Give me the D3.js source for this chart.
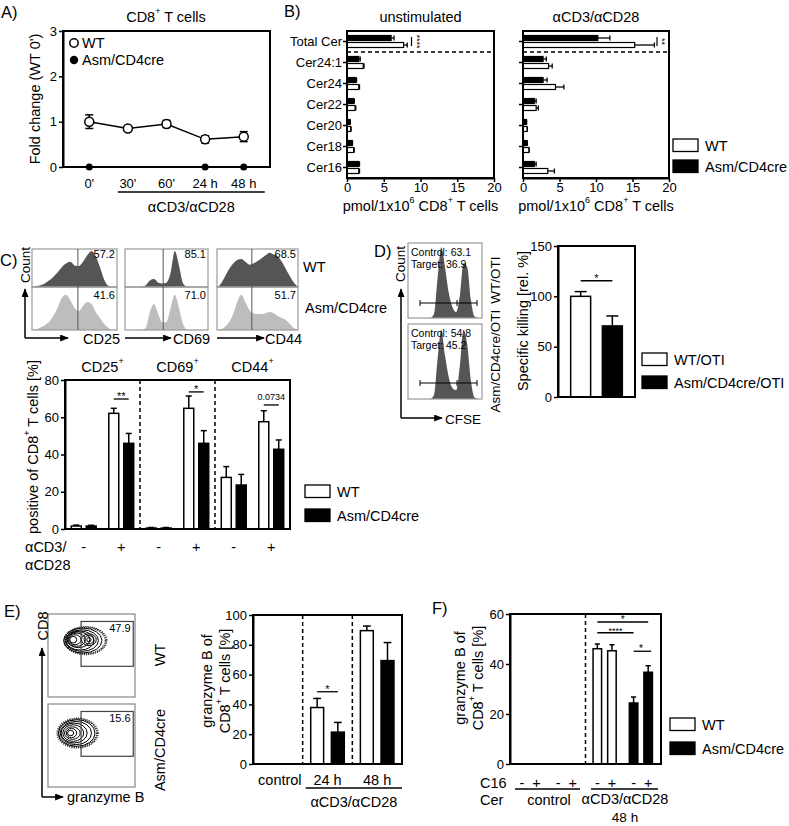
<!DOCTYPE html>
<html><head><meta charset="utf-8">
<script src="https://cdn.jsdelivr.net/npm/d3@7"></script>
<style>
body{margin:0;background:#fff;}
svg{display:block;font-family:"Liberation Sans",Arial,Helvetica,sans-serif;}
</style></head><body>
<svg id="fig" width="789" height="826"></svg>
<script>
// ---------------- DATA ----------------
// Panel A
const timeLabels = ["0'", "30'", "60'", "24 h", "48 h"];
const wtFold = [1.0, 0.85, 0.95, 0.61, 0.67];
const wtFoldErr = [0.15, 0.03, 0.08, 0.08, 0.11];
const asmFoldTimes = ["0'", "24 h", "48 h"];
const asmFold = [0, 0, 0];
const aTicks = [0, 1, 2, 3];
// Panel B
const cerCategories = ["Total Cer", "Cer24:1", "Cer24", "Cer22", "Cer20", "Cer18", "Cer16"];
const unstimWT = [7.7, 2.2, 1.6, 1.1, 0.5, 0.9, 1.6];
const unstimWTErr = [0.5, 0.12, 0.1, 0.1, 0.05, 0.08, 0.1];
const unstimAsm = [6.0, 1.6, 1.2, 0.9, 0.4, 0.7, 1.6];
const unstimAsmErr = [0.4, 0.2, 0.1, 0.1, 0.05, 0.05, 0.1];
const stimWT = [15.3, 3.5, 4.45, 1.8, 0.55, 0.8, 3.4];
const stimWTErr = [2.7, 0.5, 1.15, 0.3, 0.05, 0.05, 0.9];
const stimAsm = [10.25, 2.75, 2.75, 1.55, 0.45, 0.55, 1.55];
const stimAsmErr = [1.65, 0.45, 0.55, 0.25, 0.05, 0.05, 0.25];
const bTicks = [0, 5, 10, 15, 20];
// Panel C histograms (relative density at 21 evenly spaced points)
const histMarkers = ["CD25", "CD69", "CD44"];
const histWT = [
  [0,.02,.05,.1,.18,.28,.4,.55,.65,.7,.6,.58,.7,.88,1,.85,.55,.2,.03,0,0],
  [0,0,0,0,.01,.05,.18,.22,.12,.1,.12,.4,1,.6,.1,.01,0,0,0,0,0],
  [0,.1,.3,.5,.65,.75,.78,.7,.62,.65,.72,.8,.88,.95,.9,.85,.7,.5,.3,.12,0]
];
const histAsm = [
  [0,.02,.06,.12,.2,.35,.55,.8,.88,.75,.55,.47,.6,.7,.65,.45,.3,.15,.05,0,0],
  [0,0,0,0,0,.05,.45,.65,.4,.18,.2,.55,.88,.55,.15,0,0,0,0,0,0],
  [0,.02,.08,.2,.4,.7,.88,.7,.5,.42,.4,.4,.42,.45,.42,.35,.3,.25,.15,.05,0]
];
const histGate = [0.54, 0.46, 0.43];
const histWTPct = ["57.2", "85.1", "68.5"];
const histAsmPct = ["41.6", "71.0", "51.7"];
// Panel C bars
const cMarkers = ["CD25", "CD69", "CD44"];
const cWTunstim = [1.6, 0.5, 27.7];
const cWTunstimErr = [0.5, 0.3, 5.8];
const cAsmUnstim = [1.6, 0.5, 23.6];
const cAsmUnstimErr = [0.4, 0.3, 5.7];
const cWTstim = [62.1, 64.8, 57.6];
const cWTstimErr = [2.7, 6.6, 5.9];
const cAsmStim = [46, 46, 42.8];
const cAsmStimErr = [5.3, 6.8, 5.0];
const cSigLabels = ["**", "*", "0.0734"];
const cSigLevel = [69.8, 73.6, 66.6];
const cTicks = [0, 20, 40, 60, 80];
// Panel D
const dHistWT = [0,0,0,0,0,0,0,.05,.55,.97,.7,.35,.15,.08,.3,.75,.7,.25,.02,0,0];
const dHistAsm = [0,0,0,0,0,0,0,.05,.55,.95,.6,.3,.15,.12,.45,.95,.75,.25,.02,0,0];
const dWTText = ["Control: 63.1", "Target: 36.9"];
const dAsmText = ["Control: 54.8", "Target: 45.2"];
const dGroups = ["WT/OTI", "Asm/CD4cre/OTI"];
const dVals = [100, 70.6];
const dErr = [4.7, 9.9];
const dTicks = [0, 50, 100, 150];
// Panel E flow contours [cx, cy, rx, ry] in plot units (0-100)
const eWTContours = [[40,68,22,15],[39,68,19,13],[37,68,16,11.5],[35,69,13,9.5],[33,69,10,8],[31,69,7,6],[29,69,4,4],
  [47,69,8.5,7],[47,69,5.5,5],[47,69,2.5,2.5]];
const eAsmContours = [[33,65,21,16],[32,65,18,14],[30,65,15,12],[29,65,12,10],[28,65,9,7.5],[27,65,6,5.5],[26,65,3.5,3.2]];
const eGate = [38, 98, 37, 91];
const eFlowPct = ["47.9", "15.6"];
const eGroups = ["control", "24 h", "48 h"];
const eWT = [0, 37.9, 89.5];
const eWTErr = [0, 6.1, 3.1];
const eAsm = [0, 21.4, 69.4];
const eAsmErr = [0, 6.5, 12.1];
const eTicks = [0, 20, 40, 60, 80, 100];
// Panel F
const fGroups = ["control", "stim"];
const fC16 = ["-", "+"];
const fWT = [0, 0, 46.1, 45.3];
const fWTErr = [0, 0, 1.9, 2.4];
const fAsm = [0, 0, 24.4, 36.7];
const fAsmErr = [0, 0, 2.4, 2.6];
const fTicks = [0, 20, 40, 60];

// ---------------- HELPERS ----------------
const FONT = "Liberation Sans, Arial, Helvetica, sans-serif";
const svg = d3.select("#fig");
const defs = svg.append("defs");
defs.append("marker").attr("id","arr").attr("viewBox","0 0 10 8").attr("refX",9).attr("refY",4)
  .attr("markerWidth",9).attr("markerHeight",7).attr("markerUnits","userSpaceOnUse").attr("orient","auto")
  .append("path").attr("d","M0,0L10,4L0,8Z").attr("fill","#000");

function T(g, x, y, s, size, anchor="start", rot=0, base="central") {
  const t = g.append("text").attr("x",x).attr("y",y).attr("font-size",size)
    .attr("text-anchor",anchor).attr("dominant-baseline",base).attr("fill","#000");
  const parts = String(s).split("^");
  let shifted = 0;
  parts.forEach((p,i)=>{
    if (!p.length) return;
    const ts = t.append("tspan").text(p);
    if (i%2===1) { ts.attr("font-size", size*0.62).attr("dy", -size*0.4); shifted = size*0.4; }
    else if (shifted) { ts.attr("dy", shifted); shifted = 0; }
  });
  if (rot) t.attr("transform",`rotate(${rot},${x},${y})`);
  return t;
}
function L(g,x1,y1,x2,y2,w=1.5,col="#000",dash=null){
  const l=g.append("line").attr("x1",x1).attr("y1",y1).attr("x2",x2).attr("y2",y2).attr("stroke",col).attr("stroke-width",w);
  if(dash) l.attr("stroke-dasharray",dash);
  return l;
}
function frame(g,x0,y0,x1,y1,sw=2,col="#000"){
  g.append("rect").attr("x",x0).attr("y",y0).attr("width",x1-x0).attr("height",y1-y0)
   .attr("fill","none").attr("stroke",col).attr("stroke-width",sw);
}
function yAxis(g, scale, x, ticks, size=13){
  const ax = g.append("g").attr("transform",`translate(${x},0)`)
    .call(d3.axisLeft(scale).tickValues(ticks).tickFormat(d3.format("d")).tickSize(4).tickSizeOuter(0).tickPadding(2));
  ax.attr("font-family",FONT);
  ax.select(".domain").attr("stroke-width",2);
  ax.selectAll(".tick line").attr("stroke-width",1.5);
  ax.selectAll(".tick text").attr("font-size",size).attr("fill","#000");
  return ax;
}
function vBar(g, x, w, y, v, e, fill){
  if (e>0) { L(g, x+w/2, y(v), x+w/2, y(v+e), 1.5); L(g, x+w/2-w*0.3, y(v+e), x+w/2+w*0.3, y(v+e), 1.5); }
  if (v>0) g.append("rect").attr("x",x).attr("y",y(v)).attr("width",w).attr("height",y(0)-y(v))
    .attr("fill",fill).attr("stroke","#000").attr("stroke-width",1.5);
}
function legendBoxes(g, x, y1, y2, labels){
  [[y1,"#fff",labels[0]],[y2,"#000",labels[1]]].forEach(([yy,f,lab])=>{
    g.append("rect").attr("x",x).attr("y",yy).attr("width",25).attr("height",12.5)
      .attr("fill",f).attr("stroke","#000").attr("stroke-width",1.3);
    T(g, x+32, yy+6.5, lab, 14.5);
  });
}
function star(g, x, y, s, size=11){ T(g, x, y+1, s, size, "middle", 0, "auto"); }

// ---------------- PANEL A ----------------
{
  const g = svg.append("g");
  const x = d3.scalePoint().domain(timeLabels).range([63,270]).padding(0.68);
  const y = d3.scaleLinear().domain([0,3]).range([167,31]);
  frame(g,63,31,270,167);
  yAxis(g,y,63,aTicks);
  timeLabels.forEach(t=>T(g,x(t),183,t,13,"middle"));
  g.append("path").datum(timeLabels.map((t,i)=>[x(t),y(wtFold[i])]))
    .attr("d",d3.line()).attr("fill","none").attr("stroke","#000").attr("stroke-width",1.5);
  wtFold.forEach((v,i)=>{
    const xx=x(timeLabels[i]), y1=y(v+wtFoldErr[i]), y2=y(v-wtFoldErr[i]);
    L(g,xx,y1,xx,y2,1.5); L(g,xx-4,y1,xx+4,y1,1.5); L(g,xx-4,y2,xx+4,y2,1.5);
  });
  wtFold.forEach((v,i)=>g.append("circle").attr("cx",x(timeLabels[i])).attr("cy",y(v)).attr("r",4.5)
    .attr("fill","#fff").attr("stroke","#000").attr("stroke-width",1.5));
  asmFoldTimes.forEach((t,i)=>g.append("circle").attr("cx",x(t)).attr("cy",y(asmFold[i])).attr("r",3.5).attr("fill","#000"));
  g.append("circle").attr("cx",74).attr("cy",43).attr("r",4.2).attr("fill","#fff").attr("stroke","#000").attr("stroke-width",1.5);
  T(g,82,43,"WT",14.5);
  g.append("circle").attr("cx",74).attr("cy",60).attr("r",4.2).attr("fill","#000");
  T(g,82,60,"Asm/CD4cre",14.5);
  L(g,x("30'")-10,192,x("48 h")+21,192,1.3);
  T(g,(x("30'")-10+x("48 h")+21)/2,207,"αCD3/αCD28",14.5,"middle");
  T(g,166,17,"CD8^+^ T cells",14.5,"middle");
  T(g,35,99,"Fold change (WT 0')",14.5,"middle",-90);
  T(g,1,12,"A)",16.5);
}

// ---------------- PANEL B ----------------
function cerPanel(x0,x1,wt,wtE,asm,asmE,title,labels,sigX,sigText){
  const g = svg.append("g");
  const x = d3.scaleLinear().domain([0,20]).range([x0,x1]);
  const y = d3.scaleBand().domain(cerCategories).range([31,178]);
  const inner = d3.scaleBand().domain(["Asm","WT"]).range([0,y.bandwidth()]).paddingInner(0.286).paddingOuter(0.643);
  const h = inner.bandwidth();
  cerCategories.forEach((c,i)=>{
    [["Asm",asm[i],asmE[i],"#000"],["WT",wt[i],wtE[i],"#fff"]].forEach(([k,v,e,fill])=>{
      const yy = y(c)+inner(k);
      L(g,x(v),yy+h/2,x(v+e),yy+h/2,1.3);
      L(g,x(v+e),yy,x(v+e),yy+h,1.3);
      g.append("rect").attr("x",x(0)).attr("y",yy).attr("width",x(v)-x(0)).attr("height",h)
        .attr("fill",fill).attr("stroke","#000").attr("stroke-width",1.2);
    });
  });
  L(g,x0,y("Cer24:1"),x1,y("Cer24:1"),1.5,"#000","4,3");
  frame(g,x0,31,x1,178);
  const ax = g.append("g").attr("transform","translate(0,178)")
    .call(d3.axisBottom(x).tickValues(bTicks).tickSize(4).tickSizeOuter(0).tickPadding(1));
  ax.attr("font-family",FONT); ax.select(".domain").attr("stroke-width",2);
  ax.selectAll(".tick line").attr("stroke-width",1.5);
  ax.selectAll(".tick text").attr("font-size",13).attr("fill","#000");
  const ay = g.append("g").attr("transform",`translate(${x0},0)`)
    .call(d3.axisLeft(y).tickSize(4).tickSizeOuter(0).tickPadding(1));
  ay.attr("font-family",FONT); ay.select(".domain").remove();
  ay.selectAll(".tick line").attr("stroke-width",1.5);
  ay.selectAll(".tick text").attr("font-size",13).attr("fill","#000");
  if(!labels) ay.selectAll(".tick text").remove();
  const ys1 = y("Total Cer")+inner("Asm")+h/2, ys2 = y("Total Cer")+inner("WT")+h/2;
  L(g,sigX,ys1-1,sigX,ys2+1,1.2);
  T(g,sigX+5,(ys1+ys2)/2,sigText,9,"middle",90);
  T(g,(x0+x1)/2,17,title,14.5,"middle");
  T(g,(x0+x1)/2,206,"pmol/1x10^6^ CD8^+^ T cells",14.5,"middle");
}
cerPanel(347,494,unstimWT,unstimWTErr,unstimAsm,unstimAsmErr,"unstimulated",true,411.5,"****");
cerPanel(523,669,stimWT,stimWTErr,stimAsm,stimAsmErr,"αCD3/αCD28",false,657,"**");
T(svg,284,11,"B)",16.5);
legendBoxes(svg,673,139,160,["WT","Asm/CD4cre"]);

// ---------------- PANEL C histograms ----------------
{
  const g = svg.append("g");
  const boxes = [[32,117],[125,208],[217,298]];
  const t = d3.range(21).map(i=>i/20);
  histMarkers.forEach((m,mi)=>{
    const [b0,b1] = boxes[mi];
    const x = d3.scaleLinear().domain([0,1]).range([b0,b1]);
    const yW = d3.scaleLinear().domain([0,1]).range([287,251]);
    const yA = d3.scaleLinear().domain([0,1]).range([330,290]);
    g.append("path").datum(t.map((tt,i)=>[tt,histWT[mi][i]]))
      .attr("d",d3.area().x(d=>x(d[0])).y0(yW(0)).y1(d=>yW(d[1])).curve(d3.curveMonotoneX)).attr("fill","#555");
    g.append("path").datum(t.map((tt,i)=>[tt,histAsm[mi][i]]))
      .attr("d",d3.area().x(d=>x(d[0])).y0(yA(0)).y1(d=>yA(d[1])).curve(d3.curveMonotoneX)).attr("fill","#bdbdbd");
    frame(g,b0,249,b1,287,1.2,"#999");
    frame(g,b0,287,b1,330,1.2,"#999");
    L(g,x(histGate[mi]),249,x(histGate[mi]),330,1,"#555");
    T(g,b1-2,254,histWTPct[mi],11,"end");
    T(g,b1-2,295,histAsmPct[mi],11,"end");
  });
  L(g,25,338,25,289,1.5).attr("marker-end","url(#arr)");
  L(g,25,338,68,338,1.5).attr("marker-end","url(#arr)");
  T(g,83,339,"CD25",14.5);
  L(g,125,338,171,338,1.5).attr("marker-end","url(#arr)");
  T(g,173,339,"CD69",14.5);
  L(g,217,338,264,338,1.5).attr("marker-end","url(#arr)");
  T(g,265,339,"CD44",14.5);
  T(g,25,265,"Count",13.5,"middle",-90);
  T(g,303,267,"WT",14.5);
  T(g,305,308,"Asm/CD4cre",14.5);
  T(g,0,260,"C)",16.5);
}

// ---------------- PANEL C bars ----------------
{
  const g = svg.append("g");
  const y = d3.scaleLinear().domain([0,80]).range([529,380]);
  const gx = d3.scaleBand().domain(cMarkers).range([65,290]);
  const sx = d3.scaleBand().domain(["-","+"]).range([0,gx.bandwidth()]);
  const kx = d3.scaleBand().domain(["WT","Asm"]).range([0,sx.bandwidth()]).paddingInner(0.333).paddingOuter(0.42);
  const w = kx.bandwidth();
  cMarkers.forEach((m,i)=>{
    const base = gx(m);
    vBar(g, base+sx("-")+kx("WT"), w, y, cWTunstim[i], cWTunstimErr[i], "#fff");
    vBar(g, base+sx("-")+kx("Asm"), w, y, cAsmUnstim[i], cAsmUnstimErr[i], "#000");
    vBar(g, base+sx("+")+kx("WT"), w, y, cWTstim[i], cWTstimErr[i], "#fff");
    vBar(g, base+sx("+")+kx("Asm"), w, y, cAsmStim[i], cAsmStimErr[i], "#000");
    ["-","+"].forEach(s=>T(g, base+sx(s)+kx("WT")+w+ (kx("Asm")-kx("WT")-w)/2, 547, s, 14.5, "middle"));
    const xa = base+sx("+")+kx("WT")+w/2, xb = base+sx("+")+kx("Asm")+w/2;
    L(g,xa,y(cSigLevel[i]),xb,y(cSigLevel[i]),1.3);
    if (cSigLabels[i].indexOf("*")>=0) star(g,(xa+xb)/2,y(cSigLevel[i]),cSigLabels[i],11);
    else T(g,(xa+xb)/2,y(cSigLevel[i])-8,cSigLabels[i],9,"middle");
    T(g, base+gx.bandwidth()/2, 367, m+"^+^", 14.5, "middle");
    if (i>0) L(g, base, 380, base, 529, 1.5, "#000", "4,3");
  });
  frame(g,65,380,290,529);
  yAxis(g,y,65,cTicks);
  T(g,33,447,"positive of CD8^+^ T cells [%]",14.5,"middle",-90);
  T(g,25,547,"αCD3/",14.5);
  T(g,25,565,"αCD28",14.5);
  legendBoxes(g,305,485,509,["WT","Asm/CD4cre"]);
}

// ---------------- PANEL D ----------------
{
  const g = svg.append("g");
  const t = d3.range(21).map(i=>i/20);
  const x = d3.scaleLinear().domain([0,1]).range([408,482]);
  [[243,318,dHistWT,dWTText,303],[324,399,dHistAsm,dAsmText,383]].forEach(([y0,y1,data,txt,gy])=>{
    const y = d3.scaleLinear().domain([0,1]).range([y1,y0+2]);
    g.append("path").datum(t.map((tt,i)=>[tt,data[i]]))
      .attr("d",d3.area().x(d=>x(d[0])).y0(y(0)).y1(d=>y(d[1])).curve(d3.curveMonotoneX)).attr("fill","#555");
    frame(g,408,y0,482,y1,1.2,"#999");
    L(g,420,gy,477,gy,1,"#000"); L(g,420,gy-3,420,gy+3,1); L(g,477,gy-3,477,gy+3,1); L(g,457,gy-3,457,gy+3,1);
    T(g,411,y0+9,txt[0],10.5);
    T(g,411,y0+21,txt[1],10.5);
  });
  L(g,401,418,401,289,1.5).attr("marker-end","url(#arr)");
  L(g,401,418,442,418,1.5).attr("marker-end","url(#arr)");
  T(g,445,419,"CFSE",13.5);
  T(g,400,264,"Count",13.5,"middle",-90);
  T(g,495,280,"WT/OTI",13.5,"middle",-90);
  T(g,495,361,"Asm/CD4cre/OTI",13.5,"middle",-90);
  T(g,374,251,"D)",16.5);
  const y = d3.scaleLinear().domain([0,150]).range([397,246]);
  const bx = d3.scaleBand().domain(dGroups).range([558,635]).paddingInner(0.37).paddingOuter(0.4);
  dGroups.forEach((d,i)=>vBar(g,bx(d),bx.bandwidth(),y,dVals[i],dErr[i],i===0?"#fff":"#000"));
  frame(g,558,246,635,397);
  yAxis(g,y,558,dTicks);
  const xa=bx(dGroups[0])+bx.bandwidth()/2, xb=bx(dGroups[1])+bx.bandwidth()/2;
  L(g,xa,y(115.5),xb,y(115.5),1.3);
  star(g,(xa+xb)/2,y(115.5),"*",11);
  T(g,523,321,"Specific killing [rel. %]",14.5,"middle",-90);
  legendBoxes(g,642,353,376,["WT/OTI","Asm/CD4cre/OTI"]);
}

// ---------------- PANEL E ----------------
{
  const g = svg.append("g");
  const fx = d3.scaleLinear().domain([0,100]).range([48,135]);
  [[614,697,eWTContours,eFlowPct[0]],[704,787,eAsmContours,eFlowPct[1]]].forEach(([y0,y1,cont,pct],k)=>{
    const fy = d3.scaleLinear().domain([0,100]).range([y1,y0]);
    frame(g,48,y0,135,y1,1.2,"#888");
    const o = cont[0];
    [[1.12,"1,1.2",1.4],[1.05,"1.2,1",1.6]].forEach(([s,dash,w])=>{
      g.append("ellipse").attr("cx",fx(o[0]+(k===0?3:1))).attr("cy",fy(o[1]))
        .attr("rx",(fx(o[2]*s)-fx(0))).attr("ry",(fy(0)-fy(o[3]*s)))
        .attr("fill","none").attr("stroke","#222").attr("stroke-width",w).attr("stroke-dasharray",dash);
    });
    cont.forEach(c=>{
      g.append("ellipse").attr("cx",fx(c[0])).attr("cy",fy(c[1]))
        .attr("rx",fx(c[2])-fx(0)).attr("ry",fy(0)-fy(c[3]))
        .attr("fill","none").attr("stroke","#000").attr("stroke-width",1);
    });
    g.append("rect").attr("x",fx(eGate[0])).attr("y",fy(eGate[3])).attr("width",fx(eGate[1])-fx(eGate[0]))
      .attr("height",fy(eGate[2])-fy(eGate[3])).attr("fill","none").attr("stroke","#444").attr("stroke-width",1.2);
    T(g,fx(95),fy(83),pct,11,"end");
  });
  L(g,42,797,42,648,1.5).attr("marker-end","url(#arr)");
  L(g,42,797,63,797,1.5).attr("marker-end","url(#arr)");
  T(g,67,797,"granzyme B",14.5);
  T(g,43,626,"CD8",14.5,"middle",-90);
  T(g,160,655,"WT",14.5,"middle",-90);
  T(g,160,750,"Asm/CD4cre",14.5,"middle",-90);
  T(g,4,611,"E)",16.5);
  const y = d3.scaleLinear().domain([0,100]).range([764,615]);
  const gx = d3.scaleBand().domain(eGroups).range([253,402]);
  const kx = d3.scaleBand().domain(["WT","Asm"]).range([0,gx.bandwidth()]).paddingInner(0.375).paddingOuter(0.39);
  eGroups.forEach((gr,i)=>{
    vBar(g,gx(gr)+kx("WT"),kx.bandwidth(),y,eWT[i],eWTErr[i],"#fff");
    vBar(g,gx(gr)+kx("Asm"),kx.bandwidth(),y,eAsm[i],eAsmErr[i],"#000");
    T(g,gx(gr)+gx.bandwidth()/2+(i===0?2:0),780,gr,14.5,"middle");
    if(i>0) L(g,gx(gr),615,gx(gr),764,1.5,"#000","4,3");
  });
  frame(g,253,615,402,764);
  yAxis(g,y,253,eTicks);
  const xa=gx("24 h")+kx("WT")+kx.bandwidth()/2, xb=gx("24 h")+kx("Asm")+kx.bandwidth()/2;
  L(g,xa,y(48.5),xb,y(48.5),1.3);
  star(g,(xa+xb)/2,y(48.5),"*",11);
  L(g,gx("24 h")+3,788,402,788,1.3);
  T(g,(gx("24 h")+3+402)/2,802,"αCD3/αCD28",14.5,"middle");
  T(g,207,681,"granzyme B of",14.5,"middle",-90);
  T(g,225,681,"CD8^+^ T cells [%]",14.5,"middle",-90);
}

// ---------------- PANEL F ----------------
{
  const g = svg.append("g");
  const y = d3.scaleLinear().domain([0,60]).range([764,614]);
  const gx = d3.scaleBand().domain(fGroups).range([510,661]);
  const kx = d3.scaleBand().domain(["WT","Asm"]).range([1,gx.bandwidth()-2]);
  const cx = d3.scaleBand().domain(fC16).range([0,kx.bandwidth()]).paddingInner(0.417).paddingOuter(0.45);
  const w = cx.bandwidth();
  fGroups.forEach((gr,gi)=>{
    fC16.forEach((c,ci)=>{
      const idx = gi*2+ci;
      const xw = gx(gr)+kx("WT")+cx(c), xa = gx(gr)+kx("Asm")+cx(c);
      vBar(g,xw,w,y,fWT[idx],fWTErr[idx],"#fff");
      vBar(g,xa,w,y,fAsm[idx],fAsmErr[idx],"#000");
      T(g,xw+w/2,783,c,14.5,"middle");
      T(g,xa+w/2,783,c,14.5,"middle");
    });
  });
  L(g,gx("stim"),614,gx("stim"),764,1.5,"#000","4,3");
  frame(g,510,614,661,764);
  yAxis(g,y,510,fTicks);
  const bc = (k,c)=>gx("stim")+kx(k)+cx(c)+w/2;
  L(g,bc("WT","-"),y(56.8),bc("Asm","+"),y(56.8),1.3); star(g,(bc("WT","-")+bc("Asm","+"))/2,y(56.8),"*",10);
  L(g,bc("WT","-"),y(52.5),bc("Asm","-"),y(52.5),1.3); star(g,(bc("WT","-")+bc("Asm","-"))/2,y(52.5),"****",9);
  L(g,bc("Asm","-"),y(45.1),bc("Asm","+")+3,y(45.1),1.3); star(g,(bc("Asm","-")+bc("Asm","+"))/2,y(45.1),"*",10);
  L(g,515,789,580,789,1.3);
  L(g,591,789,658,789,1.3);
  T(g,480,783,"C16",14.5);
  T(g,480,800,"Cer",14.5);
  T(g,549,800,"control",14.5,"middle");
  T(g,625,799,"αCD3/αCD28",14.5,"middle");
  T(g,625,817,"48 h",13.5,"middle");
  T(g,460,678,"granzyme B of",14.5,"middle",-90);
  T(g,478,678,"CD8^+^ T cells [%]",14.5,"middle",-90);
  T(g,432,608,"F)",16.5);
  legendBoxes(g,670,718,742,["WT","Asm/CD4cre"]);
}
</script></body></html>
